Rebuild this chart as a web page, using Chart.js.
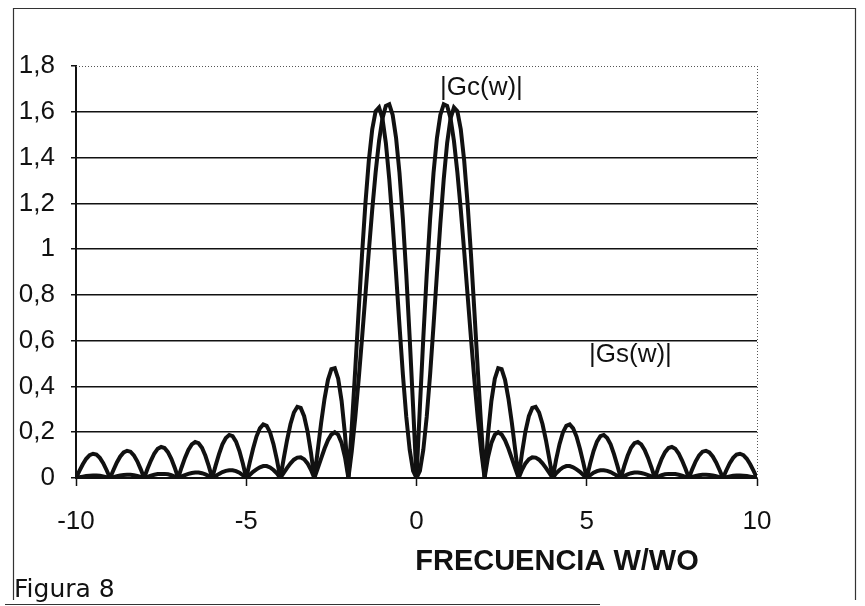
<!DOCTYPE html>
<html>
<head>
<meta charset="utf-8">
<script src="https://cdn.jsdelivr.net/npm/chart.js@4.4.1/dist/chart.umd.min.js"></script>
<style>
html,body{margin:0;padding:0;background:#fff;}
#wrap{position:relative;width:865px;height:606px;}
canvas{display:block;}
</style>
</head>
<body>
<div id="wrap"><canvas id="c" width="865" height="606"></canvas></div>
<script>
// frequency samples W/WO
const xs = [
-10,-9.9,-9.8,-9.7,-9.6,-9.5,-9.4,-9.3,-9.2,-9.1,
-9,-8.9,-8.8,-8.7,-8.6,-8.5,-8.4,-8.3,-8.2,-8.1,
-8,-7.9,-7.8,-7.7,-7.6,-7.5,-7.4,-7.3,-7.2,-7.1,
-7,-6.9,-6.8,-6.7,-6.6,-6.5,-6.4,-6.3,-6.2,-6.1,
-6,-5.9,-5.8,-5.7,-5.6,-5.5,-5.4,-5.3,-5.2,-5.1,
-5,-4.9,-4.8,-4.7,-4.6,-4.5,-4.4,-4.3,-4.2,-4.1,
-4,-3.9,-3.8,-3.7,-3.6,-3.5,-3.4,-3.3,-3.2,-3.1,
-3,-2.9,-2.8,-2.7,-2.6,-2.5,-2.4,-2.3,-2.2,-2.1,
-2,-1.9,-1.8,-1.7,-1.6,-1.5,-1.4,-1.3,-1.2,-1.1,
-1,-0.9,-0.8,-0.7,-0.6,-0.5,-0.4,-0.3,-0.2,-0.1,
0,
0.1,0.2,0.3,0.4,0.5,0.6,0.7,0.8,0.9,1,
1.1,1.2,1.3,1.4,1.5,1.6,1.7,1.8,1.9,2,
2.1,2.2,2.3,2.4,2.5,2.6,2.7,2.8,2.9,3,
3.1,3.2,3.3,3.4,3.5,3.6,3.7,3.8,3.9,4,
4.1,4.2,4.3,4.4,4.5,4.6,4.7,4.8,4.9,5,
5.1,5.2,5.3,5.4,5.5,5.6,5.7,5.8,5.9,6,
6.1,6.2,6.3,6.4,6.5,6.6,6.7,6.8,6.9,7,
7.1,7.2,7.3,7.4,7.5,7.6,7.7,7.8,7.9,8,
8.1,8.2,8.3,8.4,8.5,8.6,8.7,8.8,8.9,9,
9.1,9.2,9.3,9.4,9.5,9.6,9.7,9.8,9.9,10
];

// |Gc(w)| (larger side lobes)
const gc = [
0,.031,.06,.084,.1,.106,.102,.088,.065,.034,
0,.035,.068,.094,.112,.119,.115,.099,.073,.039,
0,.04,.076,.107,.128,.136,.131,.113,.084,.045,
0,.046,.088,.123,.147,.157,.152,.132,.097,.052,
0,.054,.104,.147,.175,.188,.183,.159,.118,.063,
0,.066,.128,.181,.217,.234,.228,.199,.148,.08,
0,.085,.166,.236,.286,.311,.306,.27,.204,.111,
0,.121,.241,.347,.429,.476,.48,.434,.337,.19,
0,.225,.472,.728,.976,1.2,1.387,1.524,1.603,1.619,
1.571,1.464,1.306,1.11,.892,.667,.453,.267,.123,.031,
0,
.031,.123,.267,.453,.667,.892,1.11,1.306,1.464,1.571,
1.619,1.603,1.524,1.387,1.2,.976,.728,.472,.225,0,
.19,.337,.434,.48,.476,.429,.347,.241,.121,0,
.111,.204,.27,.306,.311,.286,.236,.166,.085,0,
.08,.148,.199,.228,.234,.217,.181,.128,.066,0,
.063,.118,.159,.183,.188,.175,.147,.104,.054,0,
.052,.097,.132,.152,.157,.147,.123,.088,.046,0,
.045,.084,.113,.131,.136,.128,.107,.076,.04,0,
.039,.073,.099,.115,.119,.112,.094,.068,.035,0,
.034,.065,.088,.102,.106,.1,.084,.06,.031,0
];

// |Gs(w)| (small side lobes)
const gs = [
0,.003,.006,.009,.01,.011,.011,.01,.007,.004,
0,.004,.008,.011,.013,.014,.014,.012,.009,.005,
0,.005,.01,.014,.017,.018,.018,.016,.012,.006,
0,.007,.013,.018,.022,.024,.024,.021,.016,.009,
0,.009,.018,.026,.031,.034,.034,.03,.023,.012,
0,.013,.027,.038,.047,.052,.052,.046,.035,.02,
0,.022,.044,.064,.08,.089,.09,.082,.064,.036,
0,.042,.086,.129,.165,.19,.2,.189,.153,.091,
0,.118,.262,.428,.61,.8,.991,1.173,1.336,1.472,
1.571,1.626,1.633,1.586,1.486,1.333,1.132,.889,.612,.312,
0,
.312,.612,.889,1.132,1.333,1.486,1.586,1.633,1.626,1.571,
1.472,1.336,1.173,.991,.8,.61,.428,.262,.118,0,
.091,.153,.189,.2,.19,.165,.129,.086,.042,0,
.036,.064,.082,.09,.089,.08,.064,.044,.022,0,
.02,.035,.046,.052,.052,.047,.038,.027,.013,0,
.012,.023,.03,.034,.034,.031,.026,.018,.009,0,
.009,.016,.021,.024,.024,.022,.018,.013,.007,0,
.006,.012,.016,.018,.018,.017,.014,.01,.005,0,
.005,.009,.012,.014,.014,.013,.011,.008,.004,0,
.004,.007,.01,.011,.011,.01,.009,.006,.003,0
];

const xTickValues = [-10, -5, 0, 5, 10];
const yTickLabels = ['0','0,2','0,4','0,6','0,8','1','1,2','1,4','1,6','1,8'];
const seriesLabels = ['|Gc(w)|', '|Gs(w)|'];
const xTitle = 'FRECUENCIA W/WO';
const figLabel = 'Figura 8';

const ptsGc = xs.map((x, i) => ({x: x, y: gc[i]}));
const ptsGs = xs.map((x, i) => ({x: x, y: gs[i]}));

const decor = {
  id: 'decor',
  beforeDatasetsDraw(chart) {
    const ctx = chart.ctx, a = chart.chartArea;
    ctx.save();
    // dotted top and right edges of plot area
    ctx.strokeStyle = '#555';
    ctx.lineWidth = 1;
    ctx.setLineDash([1, 2]);
    ctx.beginPath();
    ctx.moveTo(a.left, a.top + 0.5); ctx.lineTo(a.right, a.top + 0.5);
    ctx.moveTo(a.right + 0.5, a.top); ctx.lineTo(a.right + 0.5, a.bottom);
    ctx.stroke();
    ctx.restore();
  },
  afterDraw(chart) {
    const ctx = chart.ctx;
    ctx.save();
    // outer frame
    ctx.strokeStyle = '#333';
    ctx.lineWidth = 1.2;
    ctx.beginPath();
    ctx.moveTo(13.5, 600); ctx.lineTo(13.5, 8.5); ctx.lineTo(855.5, 8.5); ctx.lineTo(855.5, 600);
    ctx.stroke();
    ctx.beginPath();
    ctx.moveTo(5, 604.5); ctx.lineTo(600, 604.5);
    ctx.stroke();
    // texts
    ctx.fillStyle = '#111';
    ctx.textBaseline = 'middle';
    ctx.textAlign = 'left';
    ctx.font = '26px "Liberation Sans", Arial, sans-serif';
    ctx.fillText(seriesLabels[0], 440, 88);
    ctx.fillText(seriesLabels[1], 589, 355);
    ctx.textAlign = 'center';
    ctx.font = 'bold 29px "Liberation Sans", Arial, sans-serif';
    ctx.fillText(xTitle, 557, 562);
    ctx.textAlign = 'left';
    ctx.textBaseline = 'alphabetic';
    ctx.font = '25px "DejaVu Sans", Verdana, sans-serif';
    ctx.fillText(figLabel, 14, 597);
    ctx.restore();
  }
};

new Chart(document.getElementById('c'), {
  type: 'line',
  data: {
    datasets: [
      {label: seriesLabels[0], data: ptsGc, borderColor: '#111', borderWidth: 4, pointRadius: 0, tension: 0, fill: false},
      {label: seriesLabels[1], data: ptsGs, borderColor: '#111', borderWidth: 4, pointRadius: 0, tension: 0, fill: false}
    ]
  },
  options: {
    responsive: false,
    animation: false,
    devicePixelRatio: 1,
    layout: {padding: {left: 0, top: 66, right: 108, bottom: 0}},
    plugins: {legend: {display: false}, tooltip: {enabled: false}, title: {display: false}},
    scales: {
      x: {
        type: 'linear', min: -10, max: 10,
        afterBuildTicks(scale) { scale.ticks = xTickValues.map(v => ({value: v})); },
        afterFit(scale) { scale.height = 128; },
        ticks: {color: '#111', font: {family: '"Liberation Sans", Arial, sans-serif', size: 26}, padding: 20, maxRotation: 0,
          callback: v => String(v)},
        grid: {drawOnChartArea: false, drawTicks: true, tickLength: 8, tickColor: '#111', tickWidth: 1.5},
        border: {display: true, color: '#111', width: 2}
      },
      y: {
        min: 0, max: 1.8,
        afterBuildTicks(scale) { scale.ticks = yTickLabels.map((t, i) => ({value: i * 0.2})); },
        afterFit(scale) { scale.width = 76; },
        ticks: {color: '#111', font: {family: '"Liberation Sans", Arial, sans-serif', size: 26}, padding: 16,
          callback: (v, i) => yTickLabels[i]},
        grid: {
          color: ctx => (ctx.index === 9 ? 'rgba(0,0,0,0)' : '#111'),
          lineWidth: 1.5, tickLength: 5, tickColor: '#111'
        },
        border: {display: true, color: '#111', width: 2}
      }
    }
  },
  plugins: [decor]
});
</script>
</body>
</html>
